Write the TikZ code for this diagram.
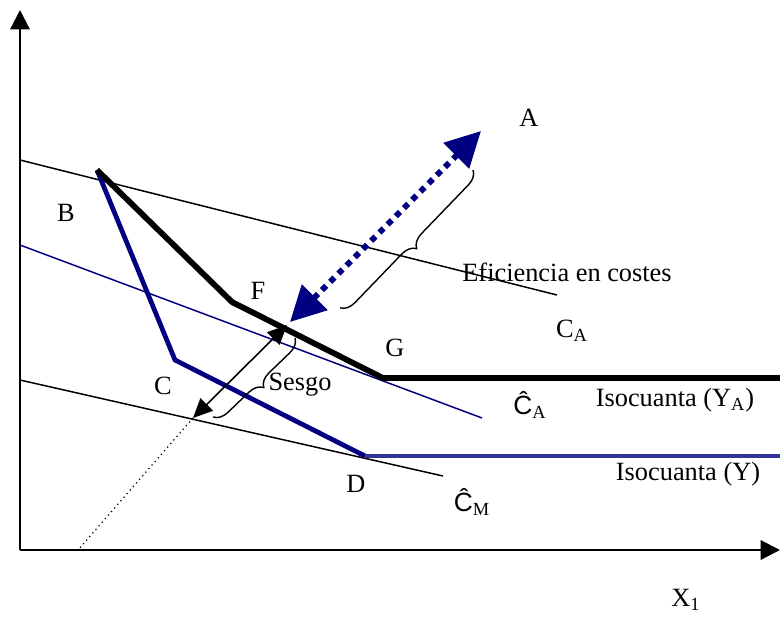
\documentclass[tikz,border=0pt]{standalone}
\usepackage{fontspec}
\setmainfont{Liberation Serif}
\newfontfamily\hatfont{Liberation Sans}
\usetikzlibrary{arrows.meta,decorations.pathreplacing}
\definecolor{isonavy}{RGB}{0,0,128}
\definecolor{isoblue}{RGB}{51,51,153}
\tikzset{
  axis/.style={line width=1.2pt,-{Triangle[length=11pt,width=11pt]}},
  costline/.style={line width=0.85pt},
  isothick/.style={line width=3.3pt,line join=miter},
  isoblueline/.style={line width=2.7pt,isonavy,line join=miter},
  lbl/.style={font=\fontsize{15}{18}\selectfont,inner sep=0pt},
  curlybrace/.style={decorate,decoration={brace,amplitude=8pt},line width=0.8pt},
}
\newcommand{\chat}{{\hatfont Ĉ}}
\begin{document}
\begin{tikzpicture}[x=0.02cm,y=-0.02cm]
\useasboundingbox (0,0) rectangle (780,616);
% points of the isoquants
\coordinate (B) at (97,170);
\coordinate (F) at (232,302);
\coordinate (G) at (383,378);
\coordinate (GR) at (780,378);
\coordinate (C) at (175,360);
\coordinate (D) at (365,456);
\coordinate (DR) at (780,456);
\coordinate (O) at (20,550);
% axes
\draw[axis](O)--(20,10);
\draw[axis](O)--(780,550);
% cost lines
\draw[costline](20,160)--(557,295);
\draw[costline,isonavy](20,245)--(482,418);
\draw[costline](20,380)--(443,476);
% isoquants
\draw[isoblueline](B)--(C)--(D);
\draw[isoblueline,isoblue](D)--(DR);
\draw[isothick](B)--(F)--(G)--(GR);
% efficiency arrow and bias arrow
\coordinate (Ftip) at (290,322);
\coordinate (Atip) at (481,131);
\coordinate (Stip) at (287,325);
\coordinate (Mtip) at (193,418);
\draw[isonavy,line width=3.4pt,dash pattern=on 3.4pt off 3.2pt,
  {Triangle[length=20pt,width=20pt]}-{Triangle[length=20pt,width=20pt]}](Ftip)--(Atip);
\draw[line width=0.9pt,{Triangle[length=11pt,width=10pt]}-{Triangle[length=11pt,width=10pt]}](Stip)--(Mtip);
\draw[dotted,line width=0.7pt](Mtip)--(78,550);
% braces
\draw[curlybrace](473,170)--(340,308);
\draw[curlybrace](295,338)--(213,417);
% labels
\node[lbl] (lA) at (529,118){A};
\node[lbl] (lB) at (66,213){B};
\node[lbl] (lF) at (258,291){F};
\node[lbl] (lG) at (395,348){G};
\node[lbl] (lC) at (163,386){C};
\node[lbl] (lD) at (356,484){D};
\node[lbl] (lCA) at (572,331){C\textsubscript{A}};
\node[lbl] (lCAh) at (530,405){\chat\textsubscript{A}};
\node[lbl] (lCMh) at (472,502){\chat\textsubscript{M}};
\node[lbl] (lYA) at (675,400){Isocuanta (Y\textsubscript{A})};
\node[lbl] (lY) at (688,474){Isocuanta (Y)};
\node[lbl] (lX) at (686,600){X\textsubscript{1}};
\node[lbl] (lEf) at (567,272){Eficiencia en costes};
\node[lbl] (lS) at (300,385){Sesgo};
\end{tikzpicture}
\end{document}
